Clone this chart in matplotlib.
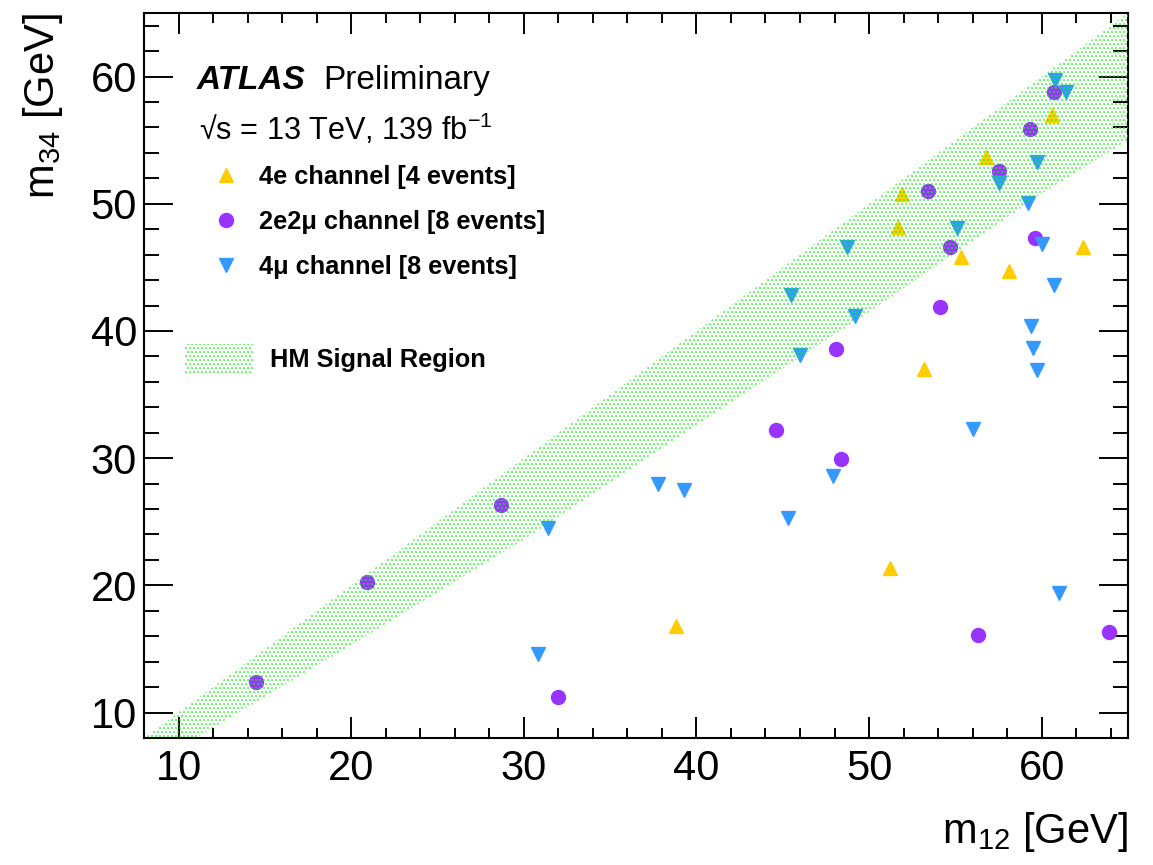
import matplotlib
matplotlib.use("Agg")
import matplotlib.pyplot as plt
from matplotlib.lines import Line2D
from matplotlib.patches import Patch
from matplotlib.ticker import MultipleLocator

plt.rcParams['font.family'] = ['Liberation Sans', 'DejaVu Sans']
plt.rcParams['mathtext.fontset'] = 'custom'
plt.rcParams['mathtext.rm'] = 'Liberation Sans'
plt.rcParams['mathtext.default'] = 'regular'
plt.rcParams['hatch.linewidth'] = 0.65

# 4e channel
m12_4e = [51.9, 51.7, 56.8, 60.6, 55.3, 58.1, 62.4, 53.2, 51.2, 38.8]
m34_4e = [50.8, 48.2, 53.7, 57.0, 45.8, 44.7, 46.6, 37.0, 21.4, 16.8]

# 2e2mu channel
m12_2e2mu = [60.7, 59.3, 57.5, 53.4, 54.7, 59.6, 54.1, 48.1,
             48.4, 44.6, 56.3, 63.9, 14.5, 20.9, 28.7, 32.0]
m34_2e2mu = [58.8, 55.9, 52.6, 51.0, 46.6, 47.3, 41.9, 38.6,
             29.9, 32.2, 16.1, 16.3, 12.4, 20.3, 26.3, 11.2]

# 4mu channel
m12_4mu = [60.8, 61.4, 59.7, 57.5, 59.2, 55.1, 48.7, 60.0, 60.7, 45.5, 49.2, 59.4,
           59.5, 59.7, 46.0, 56.0, 47.9, 45.3, 61.0, 37.8, 39.3, 31.4, 30.8]
m34_4mu = [59.7, 58.8, 53.3, 51.6, 50.1, 48.1, 46.6, 46.8, 43.6, 42.8, 41.2, 40.4,
           38.7, 36.9, 38.1, 32.3, 28.6, 25.3, 19.4, 28.0, 27.5, 24.5, 14.6]

# HM signal region: upper edge m34 = m12, lower edge
band_m12 = [8, 11, 20, 30, 40, 50, 60, 65]
band_lo = [5.5, 8.0, 15.3, 23.6, 32.6, 41.5, 50.8, 55.0]

labels = ['4e channel [4 events]', '2e2\u03bc channel [8 events]', '4\u03bc channel [8 events]']
c_4e, c_2e2mu, c_4mu = '#ffcc00', '#9933ff', '#3399ff'
green = '#00ff00'

# dpi 96 so the dot hatch lands on whole pixels (4 px pitch)
DPI = 96
fig = plt.figure(figsize=(1153 / DPI, 865 / DPI), dpi=DPI)
ax = fig.add_axes([144 / 1153, 1 - 738 / 865, 984 / 1153, 725 / 865])

ax.plot(m12_4e, m34_4e, '^', ms=11, color=c_4e, ls='none', zorder=2)
ax.plot(m12_2e2mu, m34_2e2mu, 'o', ms=10.5, color=c_2e2mu, ls='none', zorder=2)
ax.plot(m12_4mu, m34_4mu, 'v', ms=11, color=c_4mu, ls='none', zorder=2)

ax.fill_between(band_m12, band_lo, band_m12, facecolor='none', edgecolor=green,
                hatch='....', linewidth=0, zorder=3)

ax.set_xlim(8, 65)
ax.set_ylim(8, 65)
ax.xaxis.set_major_locator(MultipleLocator(10))
ax.xaxis.set_minor_locator(MultipleLocator(2))
ax.yaxis.set_major_locator(MultipleLocator(10))
ax.yaxis.set_minor_locator(MultipleLocator(2))
ax.tick_params(which='both', direction='in', top=True, right=True, width=1.45,
               labelsize=31.25)
ax.tick_params(axis='x', which='major', length=15.6, pad=8.3)
ax.tick_params(axis='x', which='minor', length=7.8)
ax.tick_params(axis='y', which='major', length=21.9, pad=5.2)
ax.tick_params(axis='y', which='minor', length=10.9)
for s in ax.spines.values():
    s.set_linewidth(1.55)

ax.set_xlabel('m$_{12}$ [GeV]', fontsize=31.25, loc='right')
ax.xaxis.set_label_coords(1.0, -0.10)
ax.set_ylabel('m$_{34}$ [GeV]', fontsize=31.25, loc='top')
ax.yaxis.set_label_coords(-0.080, 1.0)

fig.text(197 / 1153, 1 - 89 / 865, 'ATLAS', fontsize=25, fontweight='bold',
         fontstyle='italic', va='baseline')
fig.text(323 / 1153, 1 - 89 / 865, 'Preliminary', fontsize=25, va='baseline')
fig.text(199 / 1153, 1 - 140 / 865, '\u221as = 13 TeV, 139 fb$^{-1}$', fontsize=23,
         va='baseline')

handles = [Line2D([], [], marker='^', ms=11, color=c_4e, ls='none'),
           Line2D([], [], marker='o', ms=10.5, color=c_2e2mu, ls='none'),
           Line2D([], [], marker='v', ms=11, color=c_4mu, ls='none')]
leg1 = ax.legend(handles, labels, loc='upper left', bbox_to_anchor=(213 / 1153, 1 - 165 / 865),
                 bbox_transform=fig.transFigure, frameon=False, borderpad=0, borderaxespad=0,
                 prop={'size': 19, 'weight': 'bold'}, handlelength=1.0, handletextpad=0.8,
                 labelspacing=0.82)
ax.add_artist(leg1)

band_handle = Patch(facecolor='none', edgecolor=green, hatch='....', linewidth=0)
ax.legend([band_handle], ['HM Signal Region'], loc='upper left',
          bbox_to_anchor=(185 / 1153, 1 - 344 / 865), bbox_transform=fig.transFigure,
          frameon=False, borderpad=0, borderaxespad=0,
          prop={'size': 19, 'weight': 'bold'}, handlelength=2.7, handleheight=1.42,
          handletextpad=0.64)

fig.savefig('out.png', dpi=DPI)
